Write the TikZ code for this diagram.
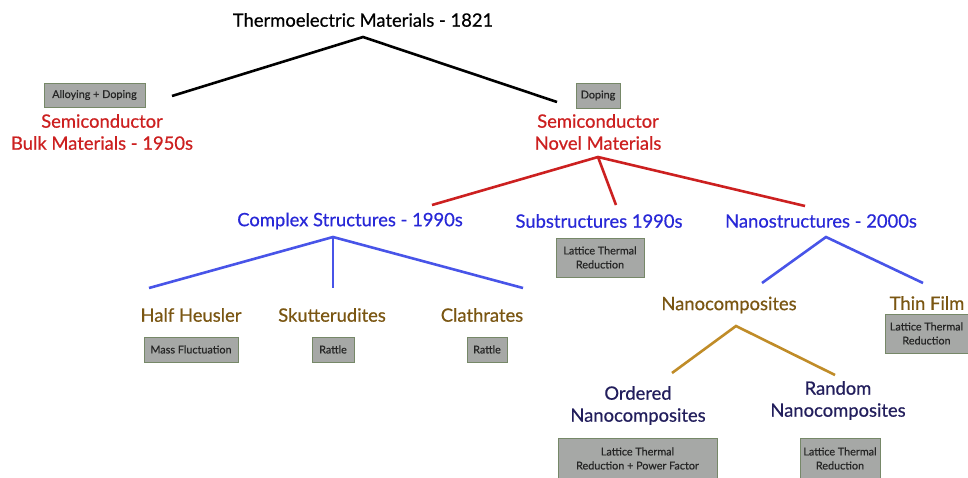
\documentclass[tikz,border=0pt]{standalone}
\usepackage{fontspec}
\setmainfont{Lato}
\newfontfamily\lblfont{Lato}[FakeBold=0.6,UprightFeatures={FakeBold=0.6}]
\definecolor{tred}{RGB}{204,32,32}
\definecolor{tblue}{RGB}{40,40,215}
\definecolor{lblue}{RGB}{72,84,232}
\definecolor{tbrown}{RGB}{122,86,18}
\definecolor{lbrown}{RGB}{192,140,40}
\definecolor{tnavy}{RGB}{34,30,92}
\definecolor{boxfill}{RGB}{166,168,166}
\definecolor{boxedge}{RGB}{118,136,104}
\begin{document}
\begin{tikzpicture}[x=1pt,y=-1pt,
  lbl/.style={font=\lblfont\fontsize{18.4}{22}\selectfont, align=center, inner sep=0pt},
  tag/.style={draw=boxedge, fill=boxfill, line width=1pt, font=\lblfont\fontsize{10.8}{14}\selectfont, align=center, inner sep=0pt, text=black!85},
  link/.style={line width=2.6pt, line join=miter}]
\useasboundingbox (0,0) rectangle (968,477);
% nodes
\node[lbl, text=black] (title) at (363,20) {Thermoelectric Materials - 1821};
\node[tag, minimum width=101pt, minimum height=24pt] (tagAD) at (94.5,95) {Alloying + Doping};
\node[lbl, text=tred] (bulk) at (102,132) {Semiconductor\\Bulk Materials - 1950s};
\node[tag, minimum width=44pt, minimum height=25pt] (tagD) at (598,95.5) {Doping};
\node[lbl, text=tred] (novel) at (598,132) {Semiconductor\\Novel Materials};
\node[lbl, text=tblue] (complex) at (350,221) {Complex Structures - 1990s};
\node[lbl, text=tblue] (subs) at (599,221) {Substructures 1990s};
\node[lbl, text=tblue] (nano) at (821,221) {Nanostructures - 2000s};
\node[tag, minimum width=88pt, minimum height=39pt] (tagS) at (600,257.5) {Lattice Thermal\\Reduction};
\node[lbl, text=tbrown] (half) at (191,315) {Half Heusler};
\node[lbl, text=tbrown] (sku) at (332,315) {Skutterudites};
\node[lbl, text=tbrown] (clath) at (482,315) {Clathrates};
\node[tag, minimum width=94pt, minimum height=25pt] (tagMF) at (191,349.5) {Mass Fluctuation};
\node[tag, minimum width=42pt, minimum height=25pt] (tagR1) at (333,349.5) {Rattle};
\node[tag, minimum width=40pt, minimum height=25pt] (tagR2) at (487,349.5) {Rattle};
\node[lbl, text=tbrown] (ncomp) at (729,305) {Nanocomposites};
\node[lbl, text=tbrown] (thin) at (927,303) {Thin Film};
\node[tag, minimum width=83pt, minimum height=39pt] (tagTF) at (926.5,333.5) {Lattice Thermal\\Reduction};
\node[lbl, text=tnavy] (ordered) at (638,405.5) {Ordered\\Nanocomposites};
\node[lbl, text=tnavy] (random) at (838,400.5) {Random\\Nanocomposites};
\node[tag, minimum width=159pt, minimum height=41pt] (tagO) at (637.5,458.5) {Lattice Thermal\\Reduction + Power Factor};
\node[tag, minimum width=80pt, minimum height=41pt] (tagRn) at (840,458.5) {Lattice Thermal\\Reduction};
% connector points
\coordinate (aT) at (363,37);
\coordinate (eB) at (172,96);
\coordinate (eN) at (557,102);
\coordinate (aN) at (598,157);
\coordinate (eC) at (432,205);
\coordinate (eS) at (616,205);
\coordinate (eNs) at (805,206);
\coordinate (aC) at (333,237);
\coordinate (eH) at (149,288);
\coordinate (eK) at (333,288);
\coordinate (eL) at (523,288);
\coordinate (aNs) at (826,237);
\coordinate (eNc) at (762,283);
\coordinate (eTF) at (923,283);
\coordinate (aNc) at (736,326);
\coordinate (eO) at (672,373);
\coordinate (eR) at (835,375);
% connectors
\draw[link, black] (eB) -- (aT) -- (eN);
\draw[link, tred] (eC) -- (aN) -- (eNs);
\draw[link, tred] (aN) -- (eS);
\draw[link, lblue] (eH) -- (aC) -- (eL);
\draw[link, lblue] (aC) -- (eK);
\draw[link, lblue] (eNc) -- (aNs) -- (eTF);
\draw[link, lbrown] (eO) -- (aNc) -- (eR);
\end{tikzpicture}
\end{document}
